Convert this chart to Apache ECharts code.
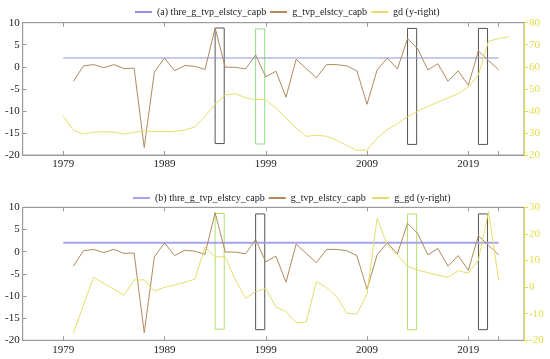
<!DOCTYPE html>
<html>
<head>
<meta charset="utf-8">
<script src="https://cdn.jsdelivr.net/npm/echarts@6/dist/echarts.min.js"></script>
<style>html,body{margin:0;padding:0;background:#fff}#c{width:550px;height:359px}</style>
</head>
<body>
<div id="c"></div>
<script>
// ---- data ----
const growthYears = [1980,1981,1982,1983,1984,1985,1986,1987,1988,1989,1990,1991,1992,1993,1994,1995,1996,1997,1998,1999,2000,2001,2002,2003,2004,2005,2006,2007,2008,2009,2010,2011,2012,2013,2014,2015,2016,2017,2018,2019,2020,2021,2022];
const gTvpElstcyCapb = [-3.3,0.2,0.5,-0.2,0.5,-0.4,-0.3,-18.3,-1.2,2.0,-0.9,0.3,0.1,-0.6,8.8,-0.1,-0.1,-0.5,2.7,-2.3,-1.0,-6.9,1.7,-0.4,-2.5,0.5,0.5,0.2,-0.9,-8.5,-0.7,2.0,-0.5,6.4,4.1,-0.7,0.7,-3.3,-0.9,-4.2,3.6,1.4,-0.7];
const threYears = [1979, 2022];
const threValues = [2.0, 2.0];
const gdYears = [1979,1980,1981,1982,1983,1984,1985,1986,1987,1988,1989,1990,1991,1992,1993,1994,1995,1996,1997,1998,1999,2000,2001,2002,2003,2004,2005,2006,2007,2008,2009,2010,2011,2012,2013,2014,2015,2016,2017,2018,2019,2020,2021,2022,2023];
const gd = [37.6,31.2,29.5,30.3,30.6,30.4,29.5,30.3,30.9,30.6,30.6,30.8,31.3,32.7,37.5,43.1,47.1,47.8,45.9,45.1,45.1,41.3,36.8,32.2,28.5,28.9,28.5,26.7,24.4,22.1,22.2,27.7,31.5,34.1,37.4,39.8,42.0,44.0,45.9,47.8,50.8,56.4,71.6,72.8,73.6];
const gGd = [-17.4,-6.8,3.7,1.4,-0.8,-3.0,2.7,2.7,-1.5,-0.1,0.8,1.8,3.0,15.0,11.4,11.4,2.7,-4.2,-1.7,-0.5,-7.4,-9.2,-13.4,-13.1,2.0,-0.1,-3.6,-9.8,-10.1,-2.5,25.9,15.8,12.1,7.7,6.4,5.4,4.5,3.7,6.2,5.2,10.2,28.4,2.5];
const xLabelYears = [1979,1989,1999,2009,2019];
const xTickYears = [1979,1989,1999,2009,2019,2022];
// highlighted boxes: start year, top value, bottom value, kind
const boxesA = [[1994,8.8,-17.4,'k'],[1998,8.6,-17.5,'g'],[2013,8.7,-17.6,'k'],[2020,8.7,-17.6,'k']];
const boxesB = [[1994,8.6,-17.5,'g'],[1998,8.5,-17.6,'k'],[2013,8.5,-17.6,'g'],[2020,8.5,-17.6,'k']];
const boxWidth = 0.9;

const pairs = (xs, ys) => xs.map((x,i)=>[x, ys[i]]);
const FONT = 'Liberation Serif';
const BLUE = '#8c96e0', BROWN = '#b08a5c', YEL = '#e6de6a', YAX = '#e2dc48';
const GREY = '#9a9a9a';

function boxes(list, green){
  return {
    silent: true,
    data: list.map(b => [
      {coord:[b[0], b[1]], itemStyle:{color:'rgba(0,0,0,0)', borderColor: b[3]==='k' ? '#555' : green, borderWidth:1}},
      {coord:[b[0]+boxWidth, b[2]]}
    ])
  };
}

const grids = [
  {left:22.7, top:22.7, width:501.3, height:132.3, show:true, borderColor:GREY, borderWidth:1},
  {left:22.7, top:207.3, width:501.3, height:133, show:true, borderColor:GREY, borderWidth:1}
];

function xAxesFor(gi){
  return [
    {type:'value', gridIndex:gi, min:1975, max:2024.5, position:'bottom',
     axisLine:{onZero:false, lineStyle:{color:GREY}}, splitLine:{show:false},
     axisTick:{inside:true, length:4, customValues:xTickYears, lineStyle:{color:GREY}},
     axisLabel:{customValues:xLabelYears, formatter:(v)=>String(v), color:'#222', fontFamily:FONT, fontSize:11, margin:4}},
    {type:'value', gridIndex:gi, min:1975, max:2024.5, position:'top',
     axisLine:{onZero:false, lineStyle:{color:GREY}}, splitLine:{show:false},
     axisTick:{inside:true, length:4, customValues:xTickYears, lineStyle:{color:GREY}},
     axisLabel:{show:false}}
  ];
}

const option = {
  animation:false,
  backgroundColor:'#fff',
  grid: grids,
  legend: [
    {left:130, top:2, itemWidth:17, itemHeight:2, itemGap:4, icon:'rect',
     textStyle:{fontFamily:FONT, fontSize:10, color:'#222'},
     data:['(a) thre_g_tvp_elstcy_capb','g_tvp_elstcy_capb','gd (y-right)']},
    {left:128, top:188, itemWidth:17, itemHeight:2, itemGap:4, icon:'rect',
     textStyle:{fontFamily:FONT, fontSize:10, color:'#222'},
     data:['(b) thre_g_tvp_elstcy_capb','g_tvp_elstcy_capb ','g_gd (y-right)']}
  ],
  xAxis: [...xAxesFor(0), ...xAxesFor(1)],
  yAxis: [
    {type:'value', gridIndex:0, min:-20, max:10, interval:5, position:'left',
     axisLine:{show:true, onZero:false, lineStyle:{color:GREY}}, splitLine:{show:false},
     axisTick:{show:true, inside:true, length:4, lineStyle:{color:GREY}},
     axisLabel:{color:'#222', fontFamily:FONT, fontSize:11, margin:3}},
    {type:'value', gridIndex:0, min:20, max:80, interval:10, position:'right',
     axisLine:{show:true, onZero:false, lineStyle:{color:YAX}}, splitLine:{show:false},
     axisTick:{show:true, inside:false, length:4, lineStyle:{color:YAX}},
     axisLabel:{color:YAX, fontFamily:FONT, fontSize:11, margin:5}},
    {type:'value', gridIndex:1, min:-20, max:10, interval:5, position:'left',
     axisLine:{show:true, onZero:false, lineStyle:{color:GREY}}, splitLine:{show:false},
     axisTick:{show:true, inside:true, length:4, lineStyle:{color:GREY}},
     axisLabel:{color:'#222', fontFamily:FONT, fontSize:11, margin:3}},
    {type:'value', gridIndex:1, min:-20, max:30, interval:10, position:'right',
     axisLine:{show:true, onZero:false, lineStyle:{color:YAX}}, splitLine:{show:false},
     axisTick:{show:true, inside:false, length:4, lineStyle:{color:YAX}},
     axisLabel:{color:YAX, fontFamily:FONT, fontSize:11, margin:5}}
  ],
  series: [
    {name:'(a) thre_g_tvp_elstcy_capb', type:'line', xAxisIndex:0, yAxisIndex:0, symbol:'none',
     data:pairs(threYears, threValues), color:BLUE, lineStyle:{width:1, color:BLUE}},
    {name:'g_tvp_elstcy_capb', type:'line', xAxisIndex:0, yAxisIndex:0, symbol:'none',
     data:pairs(growthYears, gTvpElstcyCapb), color:BROWN, lineStyle:{width:1, color:BROWN},
     markArea: boxes(boxesA, '#8fdc86')},
    {name:'gd (y-right)', type:'line', xAxisIndex:0, yAxisIndex:1, symbol:'none',
     data:pairs(gdYears, gd), color:YEL, lineStyle:{width:1, color:YEL}},
    {name:'(b) thre_g_tvp_elstcy_capb', type:'line', xAxisIndex:2, yAxisIndex:2, symbol:'none',
     data:pairs(threYears, threValues), color:'#a4a4ec', lineStyle:{width:2, color:'#a4a4ec'}},
    {name:'g_tvp_elstcy_capb ', type:'line', xAxisIndex:2, yAxisIndex:2, symbol:'none',
     data:pairs(growthYears, gTvpElstcyCapb), color:BROWN, lineStyle:{width:1, color:BROWN},
     markArea: boxes(boxesB, '#b2e070')},
    {name:'g_gd (y-right)', type:'line', xAxisIndex:2, yAxisIndex:3, symbol:'none',
     data:pairs(growthYears, gGd), color:YEL, lineStyle:{width:1, color:YEL}}
  ]
};
const chart = echarts.init(document.getElementById('c'), null, {renderer:'canvas'});
chart.setOption(option);
</script>
</body>
</html>
